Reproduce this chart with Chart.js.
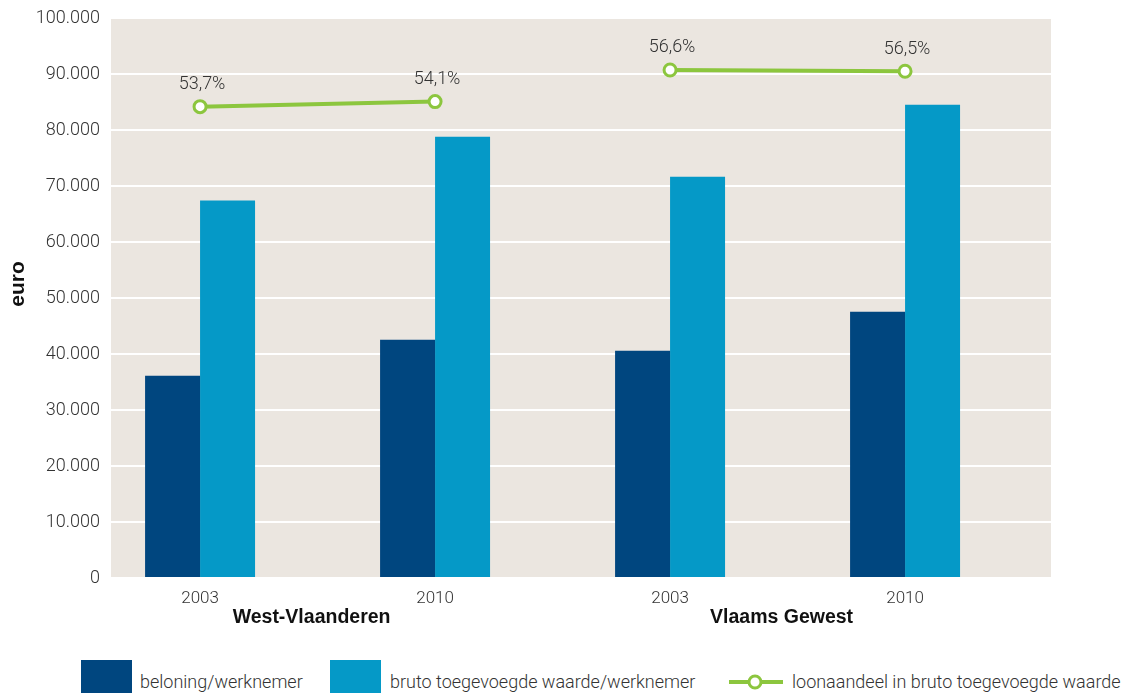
<!DOCTYPE html>
<html>
<head>
<meta charset="utf-8">
<script src="https://cdn.jsdelivr.net/npm/chart.js@4.4.1/dist/chart.umd.min.js"></script>
<style>
  html, body { margin: 0; padding: 0; background: #fff; }
  #wrap { position: relative; width: 1127px; height: 693px; overflow: hidden; }
  #chart { position: absolute; left: 0; top: 0; }
  .lg { position: absolute; font-family: Roboto, sans-serif; font-weight: 300;
        font-size: 18px; line-height: 24px; color: #333; white-space: nowrap; }
  .box { position: absolute; width: 51px; height: 40px; }
</style>
</head>
<body>
<div id="wrap">
  <canvas id="chart" width="1127" height="640"></canvas>
  <div class="box" style="left:81px; top:660px; background:#00467f;"></div>
  <div class="lg" style="left:140px; top:670px;">beloning/werknemer</div>
  <div class="box" style="left:330px; top:660px; background:#0599c7;"></div>
  <div class="lg" style="left:390px; top:670px;">bruto toegevoegde waarde/werknemer</div>
  <svg style="position:absolute; left:729px; top:672px;" width="56" height="20">
    <line x1="0" y1="10" x2="54" y2="10" stroke="#8cc63e" stroke-width="4"/>
    <circle cx="26" cy="10" r="6" fill="#fff" stroke="#8cc63e" stroke-width="3"/>
  </svg>
  <div class="lg" style="left:792px; top:670px;">loonaandeel in bruto toegevoegde waarde</div>
</div>
<script>
// data
const years = ['2003', '2010', '2003', '2010'];
const regions = ['West-Vlaanderen', 'Vlaams Gewest'];
const beloning = [36100, 42550, 40600, 47550];
const brutoWaarde = [67400, 78800, 71650, 84500];
const loonaandeel = [53.7, 54.1, 56.6, 56.5];
const yTicks = [0, 10000, 20000, 30000, 40000, 50000, 60000, 70000, 80000, 90000, 100000];

const thin = 'Roboto, sans-serif';
const boldFont = "'Liberation Sans', Arial, sans-serif";

const fmtThousands = v => String(v).replace(/\B(?=(\d{3})+(?!\d))/g, '.');

// line is split per region, with a gap in between
const linePoints = [];
loonaandeel.forEach((v, i) => {
  if (i === 2) linePoints.push({ x: 1.5, y: null });
  linePoints.push({ x: i, y: v });
});

//beige plot background
const plotBg = {
  id: 'plotBg',
  beforeDraw(chart) {
    const { ctx, chartArea: a } = chart;
    ctx.save();
    ctx.fillStyle = '#ebe6e0';
    ctx.fillRect(a.left, a.top, a.right - a.left, a.bottom - a.top);
    ctx.restore();
  }
};

//percent labels, region names and the y title
const extraText = {
  id: 'extraText',
  afterDatasetsDraw(chart) {
    const ctx = chart.ctx;
    const meta = chart.getDatasetMeta(2);
    ctx.save();
    ctx.fillStyle = '#333';
    ctx.font = '300 18px ' + thin;
    ctx.textAlign = 'center';
    ctx.textBaseline = 'middle';
    meta.data.forEach((pt, i) => {
      const raw = linePoints[i];
      if (raw.y === null) return;
      ctx.fillText(String(raw.y).replace('.', ',') + '%', pt.x + 2, pt.y - 22);
    });
    const xs = chart.scales.x;
    ctx.fillStyle = '#111';
    ctx.font = 'bold 19.5px ' + boldFont;
    regions.forEach((r, i) => {
      const cx = (xs.getPixelForValue(i * 2) + xs.getPixelForValue(i * 2 + 1)) / 2;
      ctx.fillText(r, cx - 6, 618);
    });
    ctx.translate(18, 284);
    ctx.rotate(-Math.PI / 2);
    ctx.font = 'bold 21px ' + boldFont;
    ctx.fillText('euro', 0, 0);
    ctx.restore();
  }
};

new Chart(document.getElementById('chart'), {
  type: 'bar',
  data: {
    datasets: [
      {
        label: 'beloning/werknemer',
        data: beloning.map((v, i) => ({ x: i, y: v })),
        backgroundColor: '#00467f',
        categoryPercentage: 0.468,
        barPercentage: 1,
        order: 2
      },
      {
        label: 'bruto toegevoegde waarde/werknemer',
        data: brutoWaarde.map((v, i) => ({ x: i, y: v })),
        backgroundColor: '#0599c7',
        categoryPercentage: 0.468,
        barPercentage: 1,
        order: 2
      },
      {
        type: 'line',
        label: 'loonaandeel in bruto toegevoegde waarde',
        data: linePoints,
        yAxisID: 'y2',
        borderColor: '#8cc63e',
        borderWidth: 4,
        pointRadius: 6,
        pointBorderWidth: 3,
        pointBackgroundColor: '#fff',
        pointBorderColor: '#8cc63e',
        spanGaps: false,
        order: 1
      }
    ]
  },
  options: {
    responsive: false,
    animation: false,
    layout: { padding: { top: 18, right: 76, bottom: 0, left: 0 } },
    plugins: {
      legend: { display: false },
      tooltip: { enabled: false }
    },
    scales: {
      x: {
        type: 'linear',
        min: -0.379,
        max: 3.621,
        offset: false,
        grid: { display: false },
        border: { display: false },
        afterBuildTicks: s => { s.ticks = years.map((_, i) => ({ value: i })); },
        afterFit: s => { s.height = 62; },
        ticks: {
          color: '#333',
          font: { family: thin, size: 17, weight: 300 },
          padding: 3,
          maxRotation: 0,
          autoSkip: false,
          callback: v => years[v]
        }
      },
      y: {
        min: 0,
        max: 100000,
        afterBuildTicks: s => { s.ticks = yTicks.map(v => ({ value: v })); },
        afterFit: s => { s.width = 111; },
        grid: { color: '#ffffff', lineWidth: 2, drawTicks: false },
        border: { display: false },
        ticks: {
          color: '#333',
          font: { family: thin, size: 18, weight: 300, lineHeight: 0.7 },
          padding: 11,
          callback: v => fmtThousands(v)
        }
      },
      y2: {
        display: false,
        min: 16.44,
        max: 60.71
      }
    }
  },
  plugins: [plotBg, extraText]
});
</script>
</body>
</html>
